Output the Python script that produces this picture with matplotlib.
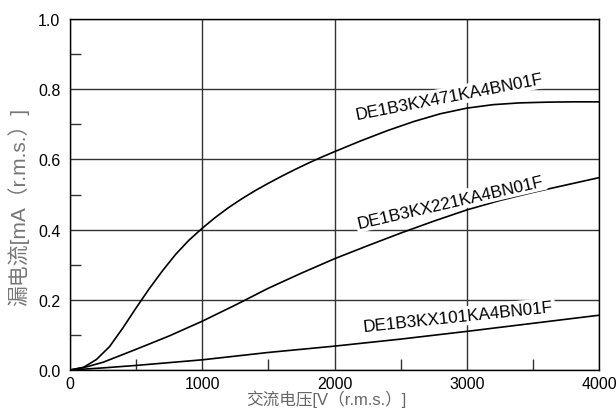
import matplotlib
matplotlib.use('Agg')
from matplotlib import pyplot as plt
from matplotlib.ticker import MultipleLocator

# voltage [V] and leakage current [mA]
v_471 = [0, 100, 200, 300, 400, 500, 600, 700, 800, 900, 1000, 1100, 1200, 1300, 1400, 1500, 1600, 1700,
         1800, 1900, 2000, 2200, 2400, 2600, 2800, 3000, 3200, 3400, 3600, 3800, 4000]
i_471 = [0, 0.007, 0.030, 0.067, 0.120, 0.177, 0.232, 0.283, 0.330, 0.370, 0.404, 0.435, 0.463, 0.488,
         0.511, 0.532, 0.552, 0.571, 0.589, 0.606, 0.622, 0.653, 0.682, 0.708, 0.730, 0.746, 0.756, 0.761,
         0.763, 0.764, 0.764]

v_221 = [0, 125, 250, 500, 750, 1000, 1250, 1500, 1750, 2000, 2250, 2500, 2750, 3000, 3250, 3500, 3750, 4000]
i_221 = [0, 0.009, 0.022, 0.059, 0.097, 0.139, 0.185, 0.233, 0.276, 0.317, 0.354, 0.390, 0.424, 0.456,
         0.483, 0.506, 0.527, 0.548]

v_101 = [0, 250, 500, 1000, 1500, 2000, 2500, 3000, 3500, 4000]
i_101 = [0, 0.006, 0.013, 0.029, 0.050, 0.068, 0.088, 0.110, 0.133, 0.156]

labels = ['DE1B3KX471KA4BN01F', 'DE1B3KX221KA4BN01F', 'DE1B3KX101KA4BN01F']
label_pos = [(2871, 0.779), (2879, 0.479), (2936, 0.152)]
label_rot = [11, 13, 6]

plt.rcParams['font.family'] = ['Liberation Sans', 'Noto Sans CJK SC']

fig = plt.figure(figsize=(6.16, 4.14), dpi=100)
ax = fig.add_axes([70 / 616, 1 - 371 / 414, 529 / 616, 351 / 414])

for v, i in [(v_471, i_471), (v_221, i_221), (v_101, i_101)]:
    ax.plot(v, i, color='black', linewidth=1.2, zorder=3)

for text, (x, y), r in zip(labels, label_pos, label_rot):
    ax.text(x, y, text, rotation=r, ha='center', va='center', fontsize=12.3,
            rotation_mode='anchor', zorder=4,
            bbox=dict(facecolor='white', edgecolor='none', pad=1.5))

ax.set_xlim(0, 4000)
ax.set_ylim(0, 1.0)
ax.xaxis.set_major_locator(MultipleLocator(1000))
ax.yaxis.set_major_locator(MultipleLocator(0.2))
ax.xaxis.set_minor_locator(MultipleLocator(500))
ax.yaxis.set_minor_locator(MultipleLocator(0.1))
ax.yaxis.set_major_formatter(lambda y, pos: f'{y:.1f}')
ax.grid(True, which='major', color='#333333', linewidth=1.0, zorder=1)
ax.tick_params(which='major', length=0, labelsize=11.5, pad=4, colors='black')
ax.tick_params(which='minor', direction='in', length=8, width=1, color='#333333')
ax.tick_params(axis='y', which='major', pad=7)
for s in ax.spines.values():
    s.set_linewidth(1.0)
    s.set_color('black')

ax.set_xlabel('交流电压[V（r.m.s.）]', fontsize=12, color='#666666')
ax.set_ylabel('漏电流[mA（r.m.s.）]', fontsize=15, color='#777777')
ax.xaxis.set_label_coords(0.484, -0.057)
ax.yaxis.set_label_coords(-0.078, 0.467)

fig.savefig('out.png', dpi=100)
